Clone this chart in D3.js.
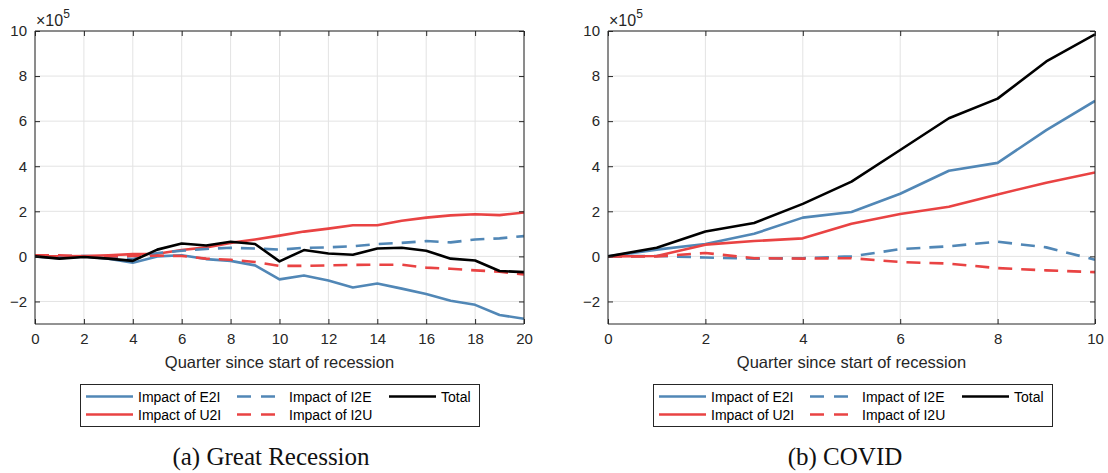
<!DOCTYPE html>
<html>
<head>
<meta charset="utf-8">
<script src="https://cdn.jsdelivr.net/npm/d3@7"></script>
<style>
  html, body { margin: 0; padding: 0; background: #fff; }
  svg { display: block; }
</style>
</head>
<body>
<svg id="fig" width="1108" height="473"></svg>
<script>
// Contributions to the change in employment, in units of 10^5 workers
const quartersGR = d3.range(0, 21);
const grE2I   = [0, -0.08, 0, -0.1, -0.28, 0, 0.05, -0.12, -0.2, -0.4, -1.02, -0.85, -1.07, -1.38, -1.2, -1.43, -1.67, -1.97, -2.15, -2.6, -2.77];
const grI2E   = [0, 0, 0.02, -0.02, -0.12, 0.15, 0.25, 0.33, 0.38, 0.35, 0.3, 0.38, 0.4, 0.45, 0.55, 0.6, 0.68, 0.62, 0.75, 0.8, 0.9];
const grU2I   = [0, 0, 0.02, 0.05, 0.1, 0.12, 0.28, 0.4, 0.6, 0.75, 0.92, 1.1, 1.23, 1.38, 1.38, 1.58, 1.72, 1.82, 1.87, 1.83, 1.95];
const grI2U   = [0.05, 0.05, 0, 0, 0.02, 0.03, 0.02, -0.1, -0.15, -0.25, -0.42, -0.42, -0.4, -0.38, -0.37, -0.37, -0.5, -0.55, -0.62, -0.68, -0.8];
const grTotal = [0, -0.1, -0.03, -0.1, -0.2, 0.3, 0.57, 0.48, 0.65, 0.55, -0.22, 0.28, 0.13, 0.07, 0.35, 0.38, 0.25, -0.1, -0.18, -0.65, -0.7];

const quartersCV = d3.range(0, 11);
const cvE2I   = [0, 0.3, 0.55, 1.0, 1.72, 1.97, 2.78, 3.8, 4.15, 5.6, 6.9];
const cvI2E   = [0, 0.02, -0.05, -0.1, -0.08, 0, 0.32, 0.45, 0.65, 0.4, -0.15];
const cvU2I   = [0, 0.02, 0.52, 0.68, 0.8, 1.45, 1.88, 2.2, 2.75, 3.27, 3.72];
const cvI2U   = [0, 0, 0.15, -0.08, -0.1, -0.08, -0.25, -0.32, -0.52, -0.62, -0.7];
const cvTotal = [0, 0.38, 1.1, 1.48, 2.33, 3.32, 4.72, 6.13, 7.0, 8.65, 9.85];

const seriesNames = ["Impact of E2I", "Impact of U2I", "Impact of I2E", "Impact of I2U", "Total"];
const yTicks = [-2, 0, 2, 4, 6, 8, 10];
const xTicksGR = d3.range(0, 21, 2);
const xTicksCV = d3.range(0, 11, 2);
const exponent = "5";
const xLabel = "Quarter since start of recession";
const captions = ["(a) Great Recession", "(b) COVID"];

const BLUE = "#5187b6", RED = "#e94343", BLACK = "#000000", AXIS = "#262626";
const styles = [
  { color: BLUE,  dash: null },
  { color: RED,   dash: null },
  { color: BLUE,  dash: "14,9" },
  { color: RED,   dash: "14,9" },
  { color: BLACK, dash: null }
];

const svg = d3.select("#fig");
const FONT = "'Liberation Sans', Arial, Helvetica, sans-serif";

function panel(cfg) {
  const { left, right, top, bottom, quarters, series, xTicks, xMax, legendX, captionX, caption, id } = cfg;
  const x = d3.scaleLinear().domain([0, xMax]).range([left, right]);
  const y = d3.scaleLinear().domain([-3, 10]).range([bottom, top]);
  const g = svg.append("g");

  // grid
  const grid = g.append("g").attr("stroke", "#e3e3e3").attr("stroke-width", 1);
  xTicks.forEach(t => grid.append("line").attr("x1", x(t)).attr("x2", x(t)).attr("y1", top).attr("y2", bottom));
  yTicks.forEach(t => grid.append("line").attr("x1", left).attr("x2", right).attr("y1", y(t)).attr("y2", y(t)));

  // clip region for the series
  svg.append("defs").append("clipPath").attr("id", "clip" + id)
    .append("rect").attr("x", left).attr("y", top).attr("width", right - left).attr("height", bottom - top);

  const line = d3.line().x((d, i) => x(quarters[i])).y(d => y(d));
  const lines = g.append("g").attr("clip-path", `url(#clip${id})`);
  series.forEach((s, k) => {
    lines.append("path").datum(s)
      .attr("d", line)
      .attr("fill", "none")
      .attr("stroke", styles[k].color)
      .attr("stroke-width", 2.6)
      .attr("stroke-linejoin", "round")
      .attr("stroke-dasharray", styles[k].dash);
  });

  // axes: bottom/left with labels, top/right as box with inward ticks
  const tickLen = 5;
  const xAxisB = d3.axisBottom(x).tickValues(xTicks).tickSize(-tickLen).tickPadding(9).tickFormat(d3.format("d"));
  const xAxisT = d3.axisTop(x).tickValues(xTicks).tickSize(-tickLen).tickFormat("");
  const yAxisL = d3.axisLeft(y).tickValues(yTicks).tickSize(-tickLen).tickPadding(8).tickFormat(d3.format("d"));
  const yAxisR = d3.axisRight(y).tickValues(yTicks).tickSize(-tickLen).tickFormat("");

  const axes = [
    g.append("g").attr("transform", `translate(0,${bottom})`).call(xAxisB),
    g.append("g").attr("transform", `translate(0,${top})`).call(xAxisT),
    g.append("g").attr("transform", `translate(${left},0)`).call(yAxisL),
    g.append("g").attr("transform", `translate(${right},0)`).call(yAxisR)
  ];
  axes.forEach(a => {
    a.select(".domain").attr("stroke", AXIS).attr("stroke-width", 1);
    a.selectAll(".tick line").attr("stroke", AXIS).attr("stroke-width", 1);
    a.selectAll(".tick text").attr("fill", AXIS).style("font-family", FONT).style("font-size", "15px");
  });
  // the domain path of d3 axes adds outer ticks; redraw it as a plain edge
  axes[0].select(".domain").attr("d", `M${left},0H${right}`);
  axes[1].select(".domain").attr("d", `M${left},0H${right}`);
  axes[2].select(".domain").attr("d", `M0,${top}V${bottom}`);
  axes[3].select(".domain").attr("d", `M0,${top}V${bottom}`);

  // exponent label
  const ex = g.append("text").attr("x", left + 1).attr("y", top - 5)
    .attr("fill", AXIS).style("font-family", FONT).style("font-size", "16px");
  ex.append("tspan").text("×10");
  ex.append("tspan").attr("dy", -8).style("font-size", "12px").text(exponent);

  // x label
  g.append("text").attr("x", (left + right) / 2).attr("y", 368).attr("text-anchor", "middle")
    .attr("fill", AXIS).style("font-family", FONT).style("font-size", "16.5px").text(xLabel);

  // legend
  const lg = g.append("g").attr("transform", `translate(${legendX},384)`);
  lg.append("rect").attr("x", 0.5).attr("y", 0.5).attr("width", 399).attr("height", 42)
    .attr("fill", "#fff").attr("stroke", AXIS).attr("stroke-width", 1);
  const slots = [
    { sx: 6, ex: 53, tx: 58, row: 0 },
    { sx: 6, ex: 53, tx: 58, row: 1 },
    { sx: 157, ex: 195, tx: 209, row: 0 },
    { sx: 157, ex: 195, tx: 209, row: 1 },
    { sx: 309, ex: 356, tx: 361, row: 0 }
  ];
  seriesNames.forEach((name, k) => {
    const s = slots[k];
    const cy = s.row === 0 ? 12.5 : 30.5;
    lg.append("line").attr("x1", s.sx).attr("x2", s.ex).attr("y1", cy).attr("y2", cy)
      .attr("stroke", styles[k].color).attr("stroke-width", 2.6)
      .attr("stroke-dasharray", styles[k].dash ? "14,10" : null);
    lg.append("text").attr("x", s.tx).attr("y", cy + 5).attr("fill", "#000")
      .style("font-family", FONT).style("font-size", "14px").text(name);
  });

  // caption
  svg.append("text").attr("x", captionX).attr("y", 465).attr("text-anchor", "middle")
    .attr("fill", "#111").style("font-family", "'Liberation Serif', 'Times New Roman', serif")
    .style("font-size", "25px").text(caption);
}

panel({
  id: "a", left: 35, right: 524, top: 31, bottom: 324,
  quarters: quartersGR, series: [grE2I, grU2I, grI2E, grI2U, grTotal],
  xTicks: xTicksGR, xMax: 20, legendX: 80, captionX: 271, caption: captions[0]
});
panel({
  id: "b", left: 608, right: 1095, top: 31, bottom: 324,
  quarters: quartersCV, series: [cvE2I, cvU2I, cvI2E, cvI2U, cvTotal],
  xTicks: xTicksCV, xMax: 10, legendX: 653, captionX: 845, caption: captions[1]
});
</script>
</body>
</html>
